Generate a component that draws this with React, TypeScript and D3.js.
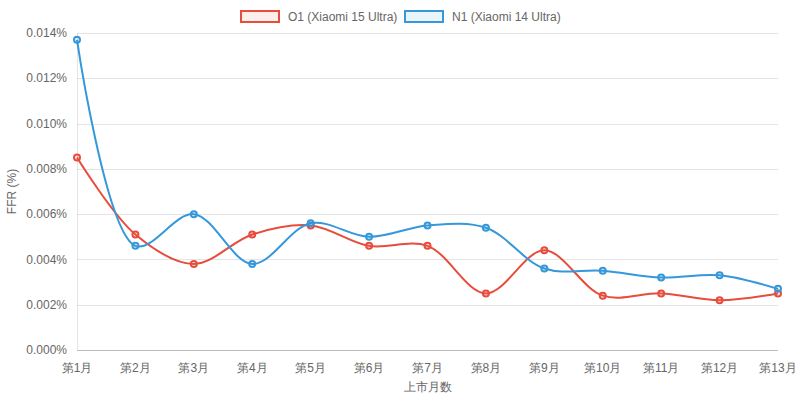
import { useEffect, useRef } from "react";
import * as d3 from "d3";

const months = ["第1月", "第2月", "第3月", "第4月", "第5月", "第6月", "第7月", "第8月", "第9月", "第10月", "第11月", "第12月", "第13月"];
const o1Values = [0.0085, 0.0051, 0.0038, 0.0051, 0.0055, 0.0046, 0.0046, 0.0025, 0.0044, 0.0024, 0.0025, 0.0022, 0.0025];
const n1Values = [0.0137, 0.0046, 0.006, 0.0038, 0.0056, 0.005, 0.0055, 0.0054, 0.0036, 0.0035, 0.0032, 0.0033, 0.0027];
const yTicks = [0, 0.002, 0.004, 0.006, 0.008, 0.01, 0.012, 0.014];

const series = [
  { name: "O1 (Xiaomi 15 Ultra)", values: o1Values, color: "#e74c3c", fill: "rgba(231,76,60,0.1)" },
  { name: "N1 (Xiaomi 14 Ultra)", values: n1Values, color: "#3498db", fill: "rgba(52,152,219,0.1)" },
];

const font = "'Liberation Sans', Arial, sans-serif";

export default function App() {
  const svgRef = useRef<SVGSVGElement>(null);

  useEffect(() => {
    const width = 800;
    const height = 401;
    const margin = { top: 33, right: 22, bottom: 51, left: 77 };

    const svg = d3.select(svgRef.current).html(null);

    const x = d3.scalePoint<string>()
      .domain(months)
      .range([margin.left, width - margin.right]);

    const y = d3.scaleLinear()
      .domain([0, 0.014])
      .range([height - margin.bottom, margin.top]);

    // horizontal grid
    svg.append("g")
      .selectAll("line")
      .data(yTicks)
      .join("line")
      .attr("x1", margin.left)
      .attr("x2", width - margin.right)
      .attr("y1", d => Math.round(y(d)) + 0.5)
      .attr("y2", d => Math.round(y(d)) + 0.5)
      .attr("stroke", "rgba(0,0,0,0.1)")

    // axis borders
    svg.append("line")
      .attr("x1", margin.left + 0.5).attr("x2", margin.left + 0.5)
      .attr("y1", margin.top).attr("y2", height - margin.bottom)
      .attr("stroke", "rgba(0,0,0,0.1)")
    svg.append("line")
      .attr("x1", margin.left).attr("x2", width - margin.right)
      .attr("y1", Math.round(y(0)) + 0.5).attr("y2", Math.round(y(0)) + 0.5)
      .attr("stroke", "rgba(0,0,0,0.18)")

    // y tick labels
    svg.append("g")
      .selectAll("text")
      .data(yTicks)
      .join("text")
      .attr("x", margin.left - 10)
      .attr("y", d => y(d))
      .attr("dy", "0.35em")
      .attr("text-anchor", "end")
      .attr("font-family", font)
      .attr("font-size", 12)
      .attr("fill", "#666")
      .text(d => `${(d * 100 / 100).toFixed(3)}%`)

    // x tick labels
    svg.append("g")
      .selectAll("text")
      .data(months)
      .join("text")
      .attr("x", d => x(d) as number)
      .attr("y", height - margin.bottom + 22)
      .attr("text-anchor", "middle")
      .attr("font-family", font)
      .attr("font-size", 12)
      .attr("fill", "#666")
      .text(d => d)

    // axis titles
    svg.append("text")
      .attr("x", (margin.left + width - margin.right) / 2)
      .attr("y", height - 10)
      .attr("text-anchor", "middle")
      .attr("font-family", font)
      .attr("font-size", 12)
      .attr("fill", "#666")
      .text("上市月数")

    svg.append("text")
      .attr("transform", `translate(16,${(margin.top + height - margin.bottom) / 2}) rotate(-90)`)
      .attr("text-anchor", "middle")
      .attr("font-family", font)
      .attr("font-size", 12)
      .attr("fill", "#666")
      .text("FFR (%)")

    const line = d3.line<number>()
      .x((_, i) => x(months[i]) as number)
      .y(d => y(d))
      .curve(d3.curveCatmullRom.alpha(0.5))

    series.forEach(s => {
      svg.append("path")
        .datum(s.values)
        .attr("fill", "none")
        .attr("stroke", s.color)
        .attr("stroke-width", 2)
        .attr("d", line)

      svg.append("g")
        .selectAll("circle")
        .data(s.values)
        .join("circle")
        .attr("cx", (_, i) => x(months[i]) as number)
        .attr("cy", d => y(d))
        .attr("r", 3)
        .attr("fill", s.fill)
        .attr("stroke", s.color)
        .attr("stroke-width", 2)
    })

    // legend
    const legendX = [240, 404];
    series.forEach((s, i) => {
      const g = svg.append("g").attr("transform", `translate(${legendX[i]},10)`)
      g.append("rect")
        .attr("x", 1).attr("y", 1)
        .attr("width", 38).attr("height", 11)
        .attr("fill", s.fill)
        .attr("stroke", s.color)
        .attr("stroke-width", 2)
      g.append("text")
        .attr("x", 48)
        .attr("y", 6.5)
        .attr("dy", "0.35em")
        .attr("font-family", font)
        .attr("font-size", 12)
        .attr("fill", "#666")
        .text(s.name)
    })
  }, []);

  return (
    <svg ref={svgRef} width={800} height={401} style={{ position: "absolute", left: 0, top: 0 }} />
  );
}
